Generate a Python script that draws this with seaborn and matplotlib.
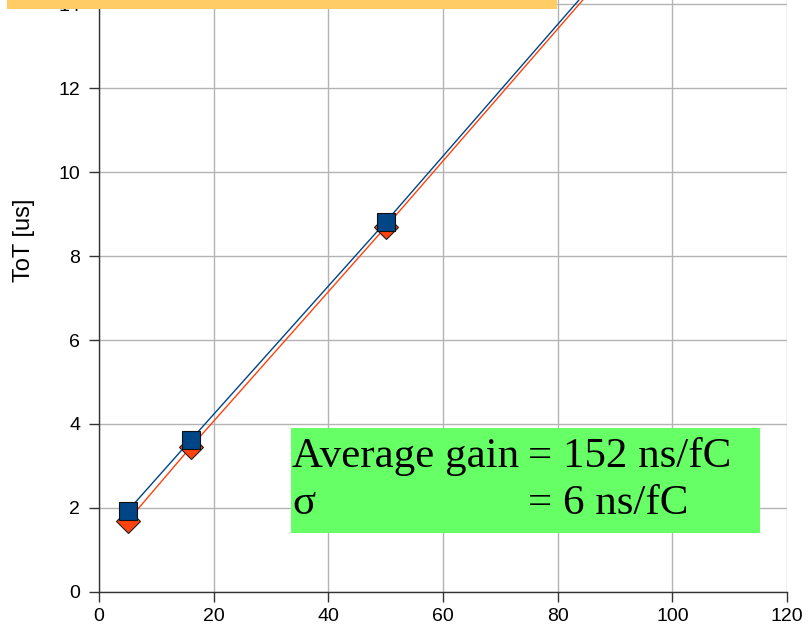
import matplotlib
matplotlib.use("Agg")
import matplotlib.pyplot as plt
from matplotlib.patches import Rectangle
import seaborn as sns
import pandas as pd

# Injected charge [fC] and measured time-over-threshold [us] for two channels
charge_fc = [5, 16, 50, 100]
tot_blue = [1.93, 3.62, 8.81, 16.65]
tot_orange = [1.69, 3.45, 8.69, 16.55]

x_ticks = [0, 20, 40, 60, 80, 100, 120]
y_ticks = [0, 2, 4, 6, 8, 10, 12, 14]

gain_text = "Average gain"
gain_value = "= 152 ns/fC"
sigma_text = "σ"
sigma_value = "= 6 ns/fC"

sns.set_theme(style="white")
plt.rcParams["font.family"] = ["Liberation Sans", "DejaVu Sans"]

fig = plt.figure(figsize=(8.08, 6.32), dpi=100)
ax = fig.add_axes([99 / 808, 40 / 632, 688 / 808, 630 / 632])

df_o = pd.DataFrame({"q": charge_fc, "tot": tot_orange})
df_b = pd.DataFrame({"q": charge_fc, "tot": tot_blue})

sns.lineplot(data=df_o, x="q", y="tot", ax=ax, color="#ff420e", linewidth=1.0,
             marker="D", markersize=12, markerfacecolor="#ff420e",
             markeredgecolor="#202020", markeredgewidth=0.8, zorder=3)
sns.lineplot(data=df_b, x="q", y="tot", ax=ax, color="#004586", linewidth=1.0,
             marker="s", markersize=13, markerfacecolor="#004586",
             markeredgecolor="#101010", markeredgewidth=0.8, zorder=4)

ax.set_xlim(0, 120)
ax.set_ylim(0, 15)
ax.set_xticks(x_ticks)
ax.set_yticks(y_ticks)
ax.grid(True, color="#b3b3b3", linewidth=1.0)
ax.set_axisbelow(True)
for side in ("top", "right"):
    ax.spines[side].set_visible(False)
for side in ("left", "bottom"):
    ax.spines[side].set_color("#333333")
    ax.spines[side].set_linewidth(1.0)
ax.tick_params(axis="both", direction="out", length=7.5, width=1.0,
               color="#333333", labelsize=14, labelcolor="black",
               bottom=True, left=True)
ax.tick_params(axis="y", pad=6)
ax.tick_params(axis="x", pad=4)
ax.set_xlabel("")
ax.set_ylabel("ToT [us]", fontsize=17, color="black")
ax.yaxis.set_label_coords(-0.093, 0.559)

# Title banner along the top edge
fig.patches.append(Rectangle((7 / 808, 1 - 9 / 632), 550 / 808, 20 / 632,
                             transform=fig.transFigure, facecolor="#ffcc66",
                             edgecolor="none", zorder=10))

# Gain summary box
fig.patches.append(Rectangle((291 / 808, 1 - 533 / 632), 469 / 808, 105 / 632,
                             transform=fig.transFigure, facecolor="#66ff66",
                             edgecolor="none", zorder=5))
serif = ["Liberation Serif", "DejaVu Serif"]
fig.text(292 / 808, 1 - 467 / 632, gain_text, family=serif, fontsize=31,
         color="black", zorder=6, va="baseline")
fig.text(528 / 808, 1 - 467 / 632, gain_value, family=serif, fontsize=31,
         color="black", zorder=6, va="baseline")
fig.text(292 / 808, 1 - 514 / 632, sigma_text, family=serif, fontsize=31,
         color="black", zorder=6, va="baseline")
fig.text(528 / 808, 1 - 514 / 632, sigma_value, family=serif, fontsize=31,
         color="black", zorder=6, va="baseline")

fig.savefig("out.png", dpi=100)
